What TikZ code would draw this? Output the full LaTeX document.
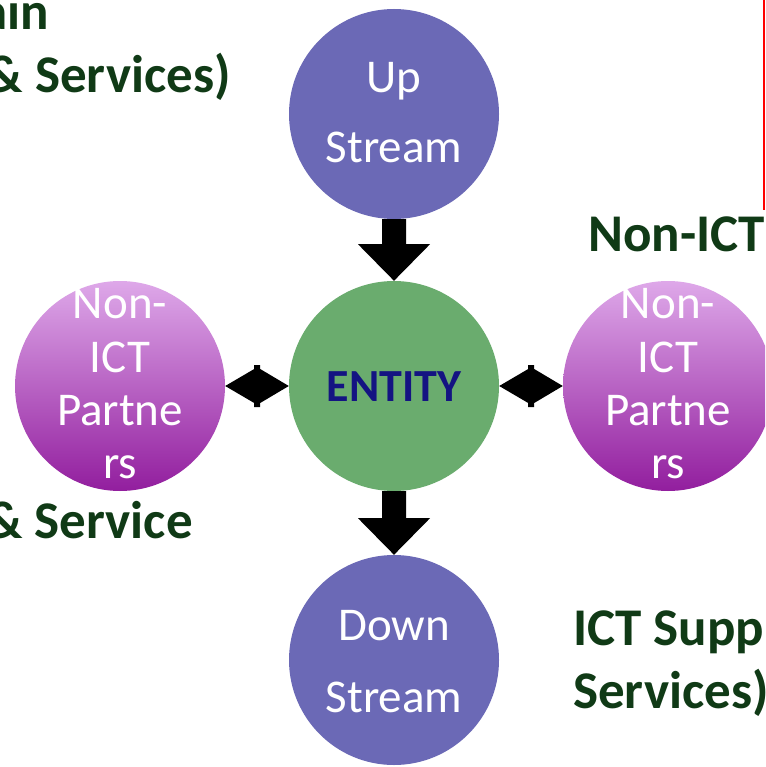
\documentclass[tikz,border=0pt]{standalone}
\usepackage{fontspec}
\setmainfont{Carlito}
\usetikzlibrary{shadings,calc}
\definecolor{streamc}{RGB}{107,105,182}
\definecolor{entityc}{RGB}{106,172,110}
\definecolor{ptop}{RGB}{222,168,233}
\definecolor{pbot}{RGB}{146,30,158}
\definecolor{lblgreen}{RGB}{16,58,22}
\definecolor{entitytxt}{RGB}{20,20,130}
\tikzset{
  bubble/.style={circle, minimum size=210pt, inner sep=0pt, draw=none},
  streambub/.style={bubble, fill=streamc},
  partnerbub/.style={bubble, top color=ptop, bottom color=pbot},
  inner/.style={text=white, inner sep=0pt, anchor=base, font=\fontsize{47}{52}\selectfont},
  lbl/.style={text=lblgreen, inner sep=0pt, font=\bfseries\fontsize{53}{60}\selectfont},
  blk/.style={fill=black, draw=none}
}
\begin{document}
\begin{tikzpicture}[x=1pt,y=-1pt]
\useasboundingbox (0,0) rectangle (765,767);
\clip (0,0) rectangle (765,767);
\fill[white] (0,0) rectangle (765,767);
% red line
\coordinate (r1) at (764,0);
\coordinate (r2) at (764,210);
\draw[red, line width=1.2pt] (r1) -- (r2);
% bubbles
\node[streambub] (up) at (394,114) {};
\node[bubble, fill=entityc] (ent) at (394,386) {};
\node[partnerbub] (lp) at (120,386) {};
\node[partnerbub] (rp) at (668,386) {};
\node[streambub] (down) at (394,660) {};
% bubble texts
\node[inner] (upa) at (394,93) {Up};
\node[inner] (upb) at (394,163) {Stream};
\node[inner] (dna) at (394,640) {Down};
\node[inner] (dnb) at (394,712) {Stream};
\node[inner, text=entitytxt, font=\bfseries\fontsize{46}{50}\selectfont] (entt) at (394,401) {ENTITY};
\node[inner] (l1) at (120,318) {Non-};
\node[inner] (l2) at (120,372) {ICT};
\node[inner] (l3) at (120,425) {Partne};
\node[inner] (l4) at (120,478) {rs};
\node[inner] (r1t) at (668,318) {Non-};
\node[inner] (r2t) at (668,372) {ICT};
\node[inner] (r3t) at (668,425) {Partne};
\node[inner] (r4t) at (668,478) {rs};
% vertical arrows
\path (up.south) coordinate (ua) (ent.north) coordinate (ub);
\fill[blk] ($(ua)+(-12,0)$) -- ($(ua)+(12,0)$) -- ($(ua)+(12,25)$) -- ($(ua)+(36,25)$) -- (ub) -- ($(ua)+(-36,25)$) -- ($(ua)+(-12,25)$) -- cycle;
\path (ent.south) coordinate (da) (down.north) coordinate (db);
\fill[blk] ($(da)+(-12,0)$) -- ($(da)+(12,0)$) -- ($(da)+(12,27)$) -- ($(da)+(36,27)$) -- (db) -- ($(da)+(-36,27)$) -- ($(da)+(-12,27)$) -- cycle;
% horizontal double arrows
\path (lp.east) coordinate (la) (ent.west) coordinate (lb);
\fill[blk] (la) -- ($(la)+(29,-17)$) -- ($(la)+(29,-21)$) -- ($(la)+(35,-21)$) -- ($(la)+(35,-17)$) -- (lb) -- ($(la)+(35,17)$) -- ($(la)+(35,21)$) -- ($(la)+(29,21)$) -- ($(la)+(29,17)$) -- cycle;
\path (ent.east) coordinate (ra) (rp.west) coordinate (rb);
\fill[blk] (ra) -- ($(ra)+(29,-17)$) -- ($(ra)+(29,-21)$) -- ($(ra)+(35,-21)$) -- ($(ra)+(35,-17)$) -- (rb) -- ($(ra)+(35,17)$) -- ($(ra)+(35,21)$) -- ($(ra)+(29,21)$) -- ($(ra)+(29,17)$) -- cycle;
% green labels (cropped slide text)
\node[lbl, anchor=base east] (g1) at (49,30) {ain};
\node[lbl, anchor=base east] (g2) at (231,93) {\& Services)};
\node[lbl, anchor=base west] (g3) at (588,251) {Non-ICT};
\node[lbl, anchor=base east] (g4) at (193,538) {\& Service};
\node[lbl, anchor=base west] (g5) at (573,645) {ICT Supp};
\node[lbl, anchor=base west] (g6) at (573,708) {Services)};
\end{tikzpicture}
\end{document}
